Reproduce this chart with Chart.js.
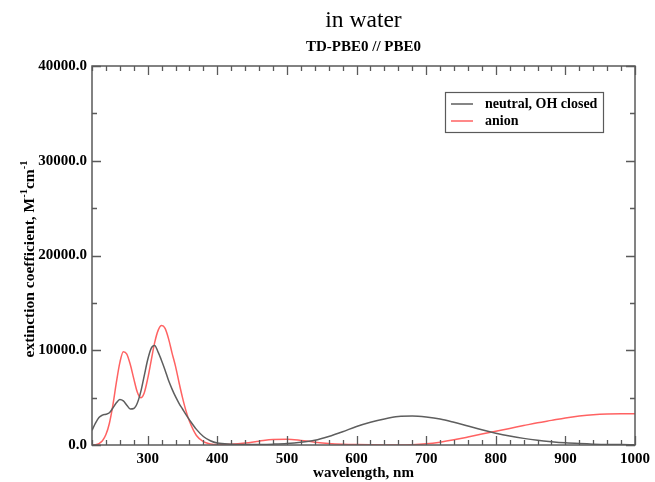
<!DOCTYPE html>
<html>
<head>
<meta charset="utf-8">
<title>in water</title>
<script src="https://cdn.jsdelivr.net/npm/chart.js@4.4.1/dist/chart.umd.min.js"></script>
<style>
  html, body { margin: 0; padding: 0; background: #fff; }
  #chart { display: block; }
</style>
</head>
<body>
<canvas id="chart" width="655" height="482"></canvas>
<script>
// wavelength grid, nm
var wavelength = [
  220, 225, 230, 235, 240, 245, 250, 255, 260, 265, 270, 275, 280, 285, 290,
  295, 300, 305, 310, 315, 320, 325, 330, 335, 340, 345, 350, 355, 360, 370,
  380, 390, 400, 420, 440, 460, 480, 500, 520, 540, 560, 580, 600, 620, 640,
  660, 680, 700, 720, 740, 760, 780, 800, 820, 840, 860, 880, 900, 920, 940,
  960, 980, 1000
];

// extinction coefficient, M^-1 cm^-1
var neutralEps = [
  1550, 2300, 2900, 3150, 3250, 3400, 3900, 4450, 4800, 4650, 4200, 3800, 3850, 4400, 5600,
  7300, 9000, 10200, 10500, 9800, 8900, 7900, 6800, 5900, 5100, 4400, 3800, 3200, 2650, 1650,
  900, 450, 200, 80, 50, 60, 90, 150, 280, 500, 900, 1400, 1950, 2400, 2750,
  3000, 3050, 2950, 2750, 2400, 2000, 1600, 1250, 950, 700, 500, 350, 230, 150, 90,
  60, 40, 30
];

var anionEps = [
  0, 30, 150, 450, 1100, 2300, 4200, 6600, 8700, 9850, 9600, 8500, 7000, 5600, 5000,
  5500, 7000, 8900, 10800, 12100, 12600, 12300, 11200, 9700, 8300, 6600, 5000, 3600, 2500, 1000,
  350, 120, 50, 80, 200, 400, 580, 600, 480, 300, 160, 80, 40, 20, 10,
  10, 30, 120, 300, 550, 850, 1150, 1450, 1750, 2050, 2350, 2600, 2850, 3050, 3200,
  3280, 3300, 3300
];

var xLabels = [300, 400, 500, 600, 700, 800, 900, 1000];
var yLabels = [0, 10000, 20000, 30000, 40000];

var seriesNames = ['neutral, OH closed', 'anion'];
var seriesColors = ['#5e5e5e', '#ff6262'];

var SERIF = '"Liberation Serif", "DejaVu Serif", serif';
var AXIS = '#5a5a5a';

function toPoints(values) {
  return wavelength.map(function (x, i) {
    return { x: x, y: values[i] };
  });
}

// frame with inward ticks on all four sides, titles and legend box
var decorPlugin = {
  id: 'decor',
  afterDatasetsDraw: function (chart) {
    var ctx = chart.ctx;
    var a = chart.chartArea;
    var xs = chart.scales.x;
    var ys = chart.scales.y;
    var v, p, len;

    ctx.save();
    ctx.strokeStyle = AXIS;
    ctx.lineWidth = 1.3;
    ctx.beginPath();
    for (v = xs.min; v <= xs.max; v += 20) {
      p = Math.round(xs.getPixelForValue(v)) + 0.5;
      len = v % 100 === 0 ? 9 : 5;
      ctx.moveTo(p, a.bottom);
      ctx.lineTo(p, a.bottom - len);
      ctx.moveTo(p, a.top);
      ctx.lineTo(p, a.top + len);
    }
    for (v = ys.min; v <= ys.max; v += 5000) {
      p = Math.round(ys.getPixelForValue(v)) + 0.5;
      len = v % 10000 === 0 ? 9 : 5;
      ctx.moveTo(a.left, p);
      ctx.lineTo(a.left + len, p);
      ctx.moveTo(a.right, p);
      ctx.lineTo(a.right - len, p);
    }
    ctx.stroke();
    ctx.lineWidth = 1.5;
    ctx.strokeRect(a.left, a.top, a.right - a.left, a.bottom - a.top);

    var cx = (a.left + a.right) / 2;
    ctx.fillStyle = '#000';
    ctx.textAlign = 'center';
    ctx.textBaseline = 'middle';
    ctx.font = '23.5px ' + SERIF;
    ctx.fillText('in water', cx, 21);
    ctx.font = 'bold 15px ' + SERIF;
    ctx.fillText('TD-PBE0 // PBE0', cx, 47);
    ctx.fillText('wavelength, nm', cx, 473);

    // y title with superscripts
    var parts = [
      { t: 'extinction coefficient, M', sup: false },
      { t: '-1', sup: true },
      { t: 'cm', sup: false },
      { t: '-1', sup: true }
    ];
    var total = 0;
    parts.forEach(function (pt) {
      ctx.font = (pt.sup ? 'bold 10.5px ' : 'bold 15.5px ') + SERIF;
      pt.w = ctx.measureText(pt.t).width;
      total += pt.w;
    });
    ctx.save();
    ctx.translate(30, 259);
    ctx.rotate(-Math.PI / 2);
    ctx.textAlign = 'left';
    var px = -total / 2;
    parts.forEach(function (pt) {
      ctx.font = (pt.sup ? 'bold 10.5px ' : 'bold 15.5px ') + SERIF;
      ctx.fillText(pt.t, px, pt.sup ? -6 : 0);
      px += pt.w;
    });
    ctx.restore();

    // legend
    var lx = 445.5, ly = 92.5, lw = 158, lh = 40;
    ctx.strokeStyle = AXIS;
    ctx.lineWidth = 1.2;
    ctx.strokeRect(lx, ly, lw, lh);
    ctx.font = 'bold 14px ' + SERIF;
    ctx.textAlign = 'left';
    seriesNames.forEach(function (name, i) {
      var yy = 104 + i * 17;
      ctx.strokeStyle = seriesColors[i];
      ctx.lineWidth = 1.5;
      ctx.beginPath();
      ctx.moveTo(451, yy);
      ctx.lineTo(473, yy);
      ctx.stroke();
      ctx.fillStyle = '#000';
      ctx.fillText(name, 485, yy);
    });
    ctx.restore();
  }
};

new Chart(document.getElementById('chart'), {
  type: 'line',
  data: {
    datasets: [
      {
        label: seriesNames[0],
        data: toPoints(neutralEps),
        borderColor: seriesColors[0],
        borderWidth: 1.5,
        pointRadius: 0,
        fill: false,
        cubicInterpolationMode: 'monotone'
      },
      {
        label: seriesNames[1],
        data: toPoints(anionEps),
        borderColor: seriesColors[1],
        borderWidth: 1.5,
        pointRadius: 0,
        fill: false,
        cubicInterpolationMode: 'monotone'
      }
    ]
  },
  options: {
    responsive: false,
    animation: false,
    layout: { padding: { left: 0, top: 66, right: 19, bottom: 0 } },
    plugins: {
      legend: { display: false },
      title: { display: false },
      tooltip: { enabled: false }
    },
    scales: {
      x: {
        type: 'linear',
        min: 220,
        max: 1000,
        afterBuildTicks: function (scale) {
          scale.ticks = xLabels.map(function (v) { return { value: v }; });
        },
        afterFit: function (scale) { scale.height = 37; },
        grid: { display: false, drawTicks: false },
        border: { display: false },
        ticks: {
          padding: 5,
          maxRotation: 0,
          autoSkip: false,
          color: '#000',
          font: { family: SERIF, size: 15, weight: 'bold' },
          callback: function (v) { return String(v); }
        }
      },
      y: {
        type: 'linear',
        min: 0,
        max: 40000,
        afterBuildTicks: function (scale) {
          scale.ticks = yLabels.map(function (v) { return { value: v }; });
        },
        afterFit: function (scale) { scale.width = 92; },
        grid: { display: false, drawTicks: false },
        border: { display: false },
        ticks: {
          padding: 5,
          color: '#000',
          font: { family: SERIF, size: 15, weight: 'bold' },
          callback: function (v) { return v.toFixed(1); }
        }
      }
    }
  },
  plugins: [decorPlugin]
});
</script>
</body>
</html>
